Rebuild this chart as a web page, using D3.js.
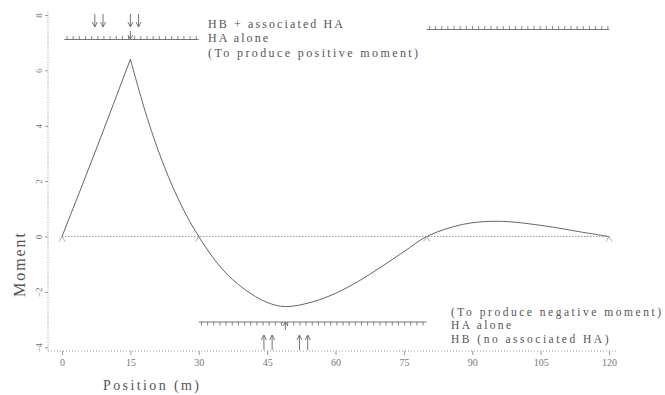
<!DOCTYPE html>
<html>
<head>
<meta charset="utf-8">
<script src="https://cdn.jsdelivr.net/npm/d3@7"></script>
<style>
  html, body { margin: 0; padding: 0; background: #fff; }
  svg { display: block; }
  text { font-family: "Liberation Serif", "DejaVu Serif", serif; fill: #555; }
</style>
</head>
<body>
<svg id="chart" width="665" height="395"></svg>
<script>
// Influence line for moment at 15 m (three-span continuous deck)
const positions = [0, 7.5, 15, 18.75, 22.5, 26.25, 30, 35, 40, 45, 49, 55, 60, 65, 70, 75, 80, 88, 96, 106, 113.6, 120];
const moments   = [0, 3.15, 6.4, 4.25, 2.5, 1.1, 0, -1.15, -1.9, -2.38, -2.53, -2.36, -2.05, -1.62, -1.1, -0.55, 0, 0.44, 0.55, 0.38, 0.17, 0];

const supports = [0, 30, 80, 120];

const xTicks = [0, 15, 30, 45, 60, 75, 90, 105, 120];
const yTicks = [8, 6, 4, 2, 0, -2, -4];

// Load arrangements (metres along the deck)
const haPositiveSpans = [[0.5, 30], [80, 120]];
const hbPositiveAxles = [7.2, 9.0, 15.0, 16.8];
const kelPositive = 15;
const haNegativeSpans = [[30, 80]];
const hbNegativeAxles = [44.3, 46.1, 52.1, 53.9];
const kelNegative = 49;

const legendPositive = ["HB + associated HA", "HA alone", "(To produce positive moment)"];
const legendNegative = ["(To produce negative moment)", "HA alone", "HB (no associated HA)"];

const svg = d3.select("#chart");
const x = d3.scaleLinear().domain([0, 120]).range([62, 609]);
const y = d3.scaleLinear().domain([0, 8]).range([236.5, 14.9]);

const ink = "#666";
const faint = "#999";
const charW = 7.5; // typewriter pitch of the notes

// Axes (dotted, as on a plotter)
svg.append("line").attr("x1", 48).attr("x2", 48).attr("y1", 12).attr("y2", 351)
  .attr("stroke", faint).attr("stroke-dasharray", "1,1.5");
svg.append("line").attr("x1", 48).attr("x2", 618).attr("y1", 351).attr("y2", 351)
  .attr("stroke", faint).attr("stroke-dasharray", "1,2");

const xAxis = svg.append("g").attr("transform", "translate(0,351)")
  .call(d3.axisBottom(x).tickValues(xTicks).tickSize(4).tickPadding(3).tickFormat(d3.format("d")));
xAxis.select(".domain").remove();
xAxis.selectAll("line").attr("stroke", faint).attr("y1", 0).attr("y2", 4);
xAxis.selectAll("text").style("font-size", "10px").style("fill", "#777").attr("y", 8);

const yAxis = svg.append("g").attr("transform", "translate(48,0)")
  .call(d3.axisLeft(y).tickValues(yTicks).tickSize(3).tickFormat(d3.format("d")));
yAxis.select(".domain").remove();
yAxis.selectAll("line").attr("stroke", faint);
yAxis.selectAll("text")
  .style("font-size", "9px").style("fill", "#777")
  .attr("x", null).attr("dy", null)
  .attr("text-anchor", "middle")
  .attr("transform", "translate(-6,0) rotate(-90)");

// Axis titles
svg.append("text").attr("transform", "translate(25,265) rotate(-90)")
  .attr("text-anchor", "middle").style("font-size", "16px")
  .attr("textLength", 64).attr("lengthAdjust", "spacing")
  .text("Moment");
svg.append("text").attr("x", 103).attr("y", 390)
  .style("font-size", "14px")
  .attr("textLength", 96).attr("lengthAdjust", "spacing")
  .text("Position (m)");

// Zero line
svg.append("line").attr("x1", x(0)).attr("x2", x(120)).attr("y1", y(0)).attr("y2", y(0))
  .attr("stroke", faint).attr("stroke-dasharray", "1.5,1.5");

// Influence line: kinked at the section (15 m), smooth elsewhere
const pts = positions.map((p, i) => [p, moments[i]]);
const iSec = positions.indexOf(15);
const lineA = d3.line().x(d => x(d[0])).y(d => y(d[1])).curve(d3.curveMonotoneX);
const lineB = d3.line().x(d => x(d[0])).y(d => y(d[1])).curve(d3.curveCatmullRom.alpha(0.5));
svg.append("path").attr("d", lineA(pts.slice(0, iSec + 1))).attr("fill", "none")
  .attr("stroke", ink).attr("stroke-width", 1);
svg.append("path").attr("d", lineB(pts.slice(iSec))).attr("fill", "none")
  .attr("stroke", ink).attr("stroke-width", 1);

// Supports
svg.selectAll(".support").data(supports).join("path")
  .attr("class", "support")
  .attr("d", d => `M${x(d) - 3},${y(0) + 5} L${x(d)},${y(0)} L${x(d) + 3},${y(0) + 5}`)
  .attr("fill", "none").attr("stroke", faint).attr("stroke-width", 0.8);

// HA uniformly distributed load strips with tick marks
const tickStep = 1.35;
function haStrip(span, level, dir) {
  const g = svg.append("g");
  g.append("line").attr("x1", x(span[0])).attr("x2", x(span[1]))
    .attr("y1", level).attr("y2", level).attr("stroke", ink).attr("stroke-width", 0.9);
  const ticks = d3.range(span[0] + 0.6, span[1], tickStep);
  g.selectAll("line.t").data(ticks).join("line").attr("class", "t")
    .attr("x1", d => x(d)).attr("x2", d => x(d))
    .attr("y1", level).attr("y2", level + dir * 3.5)
    .attr("stroke", ink).attr("stroke-width", 0.8);
}
haStrip(haPositiveSpans[0], 39.5, -1);
haStrip(haPositiveSpans[1], 29.5, -1);
haStrip(haNegativeSpans[0], 322, 1);

// Arrows: head at yHead, shaft back to yTail
function arrow(px, yTail, yHead, w, h) {
  const d = yHead > yTail ? 1 : -1;
  svg.append("path")
    .attr("d", `M${px},${yTail} L${px},${yHead} M${px - w},${yHead - d * h} L${px},${yHead} L${px + w},${yHead - d * h}`)
    .attr("fill", "none").attr("stroke", ink).attr("stroke-width", 0.9);
}
hbPositiveAxles.forEach(p => arrow(x(p), 14, 27, 2.5, 5));
arrow(x(kelPositive), 31, 39, 2.5, 4);
hbNegativeAxles.forEach(p => arrow(x(p), 350, 335, 2.5, 5));
arrow(x(kelNegative), 330, 322, 2.5, 4);

// Legend notes (typewriter pitch)
svg.selectAll(".lp").data(legendPositive).join("text").attr("class", "lp")
  .attr("x", 208).attr("y", (d, i) => 27.5 + i * 14.8)
  .style("font-size", "12px")
  .attr("textLength", d => d.length * charW).attr("lengthAdjust", "spacing")
  .text(d => d);
svg.selectAll(".ln").data(legendNegative).join("text").attr("class", "ln")
  .attr("x", 451).attr("y", (d, i) => 315.5 + i * 13.6)
  .style("font-size", "11.5px")
  .attr("textLength", d => d.length * charW).attr("lengthAdjust", "spacing")
  .text(d => d);
</script>
</body>
</html>
